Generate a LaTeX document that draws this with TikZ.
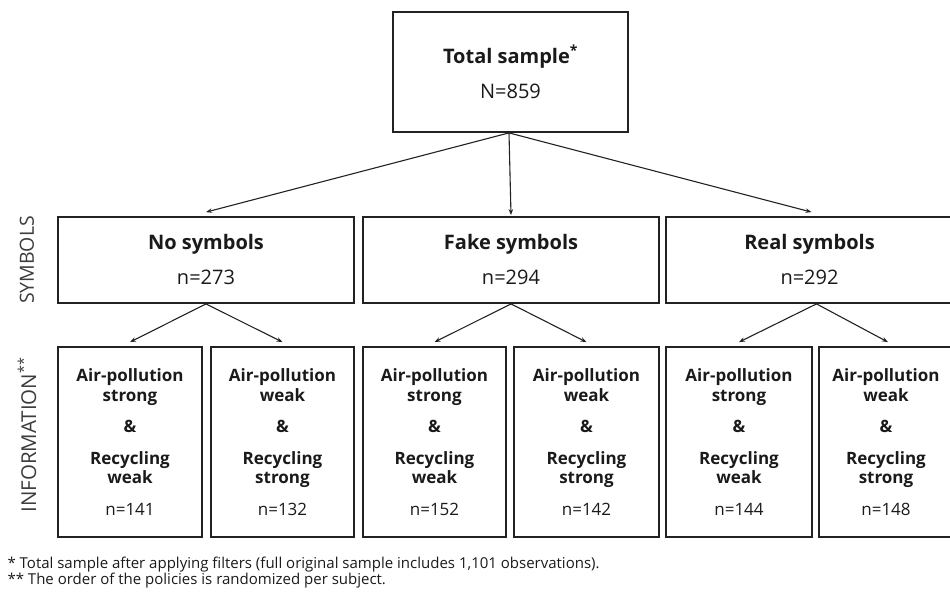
\documentclass[tikz,border=0pt]{standalone}
\usepackage{fontspec}
\setmainfont{Open Sans}
\usetikzlibrary{arrows.meta}
\definecolor{ink}{HTML}{222222}
\definecolor{txt}{HTML}{1A1A1A}
\tikzset{
  box/.style={draw=ink, line width=1.8pt, rectangle, inner sep=0pt, align=center, text=txt},
  topbox/.style={box, font=\fontsize{20}{23}\selectfont},
  midbox/.style={box, minimum height=86pt, font=\fontsize{20}{23}\selectfont},
  lowbox/.style={box, minimum height=190pt, font=\fontsize{17}{19.5}\selectfont},
  arr/.style={draw=ink, line width=1.1pt, -{Stealth[length=6pt,width=4.5pt]}},
  sidelabel/.style={rotate=90, text=txt!85, font=\fontsize{19.5}{22}\selectfont},
  note/.style={anchor=west, text=txt, font=\fontsize{15}{16}\selectfont}
}
\begin{document}
\begin{tikzpicture}[x=1pt,y=-1pt]
\useasboundingbox (0,0) rectangle (950,593);
\begin{scope}
\clip (0,0) rectangle (950,593);
% top
\node[topbox, minimum width=235pt, minimum height=120pt] (top) at (510.5,72)
  {\textbf{Total sample\textsuperscript{*}}\\[12pt] N=859};
% symbols row
\node[midbox, minimum width=296pt] (no) at (206,260) {\textbf{No symbols}\\[12pt] n=273};
\node[midbox, minimum width=296pt] (fake) at (511,260) {\textbf{Fake symbols}\\[12pt] n=294};
\node[midbox, minimum width=287pt] (real) at (809.5,260) {\textbf{Real symbols}\\[12pt] n=292};
% information row
\node[lowbox, minimum width=144pt] (no1) at (130,442)
  {\textbf{Air-pollution}\\\textbf{strong}\\[12pt]\textbf{\&}\\[12pt]\textbf{Recycling}\\\textbf{weak}\\[12pt] n=141};
\node[lowbox, minimum width=143pt] (no2) at (282.5,442)
  {\textbf{Air-pollution}\\\textbf{weak}\\[12pt]\textbf{\&}\\[12pt]\textbf{Recycling}\\\textbf{strong}\\[12pt] n=132};
\node[lowbox, minimum width=143pt] (fake1) at (434.5,442)
  {\textbf{Air-pollution}\\\textbf{strong}\\[12pt]\textbf{\&}\\[12pt]\textbf{Recycling}\\\textbf{weak}\\[12pt] n=152};
\node[lowbox, minimum width=145pt] (fake2) at (586.5,442)
  {\textbf{Air-pollution}\\\textbf{weak}\\[12pt]\textbf{\&}\\[12pt]\textbf{Recycling}\\\textbf{strong}\\[12pt] n=142};
\node[lowbox, minimum width=146pt] (real1) at (739,442)
  {\textbf{Air-pollution}\\\textbf{strong}\\[12pt]\textbf{\&}\\[12pt]\textbf{Recycling}\\\textbf{weak}\\[12pt] n=144};
\node[lowbox, minimum width=134pt] (real2) at (886,442)
  {\textbf{Air-pollution}\\\textbf{weak}\\[12pt]\textbf{\&}\\[12pt]\textbf{Recycling}\\\textbf{strong}\\[12pt] n=148};
% arrows
\draw[arr] ([xshift=-1.5pt]top.south) -- ([yshift=4pt]no.north);
\draw[arr] ([xshift=-1.5pt]top.south) -- ([yshift=1pt]fake.north);
\draw[arr] ([xshift=-1.5pt]top.south) -- ([yshift=4pt,xshift=2pt]real.north);
\draw[arr] (no.south) -- ([yshift=4pt]no1.north);
\draw[arr] (no.south) -- ([yshift=4pt]no2.north);
\draw[arr] (fake.south) -- ([yshift=4pt]fake1.north);
\draw[arr] (fake.south) -- ([yshift=4pt]fake2.north);
\draw[arr] ([xshift=7pt]real.south) -- ([yshift=4pt]real1.north);
\draw[arr] ([xshift=7pt]real.south) -- ([yshift=4pt,xshift=2pt]real2.north);
\end{scope}
% side labels
\node[sidelabel] (lsym) at (27,260) {SYMBOLS};
\node[sidelabel, font=\fontsize{20.5}{22}\selectfont] (linf) at (27,435) {INFORMATION\textsuperscript{**}};
% notes
\node[note] (n1) at (4,565) {* Total sample after applying filters (full original sample includes 1,101 observations).};
\node[note] (n2) at (4,581) {** The order of the policies is randomized per subject.};
\end{tikzpicture}
\end{document}
